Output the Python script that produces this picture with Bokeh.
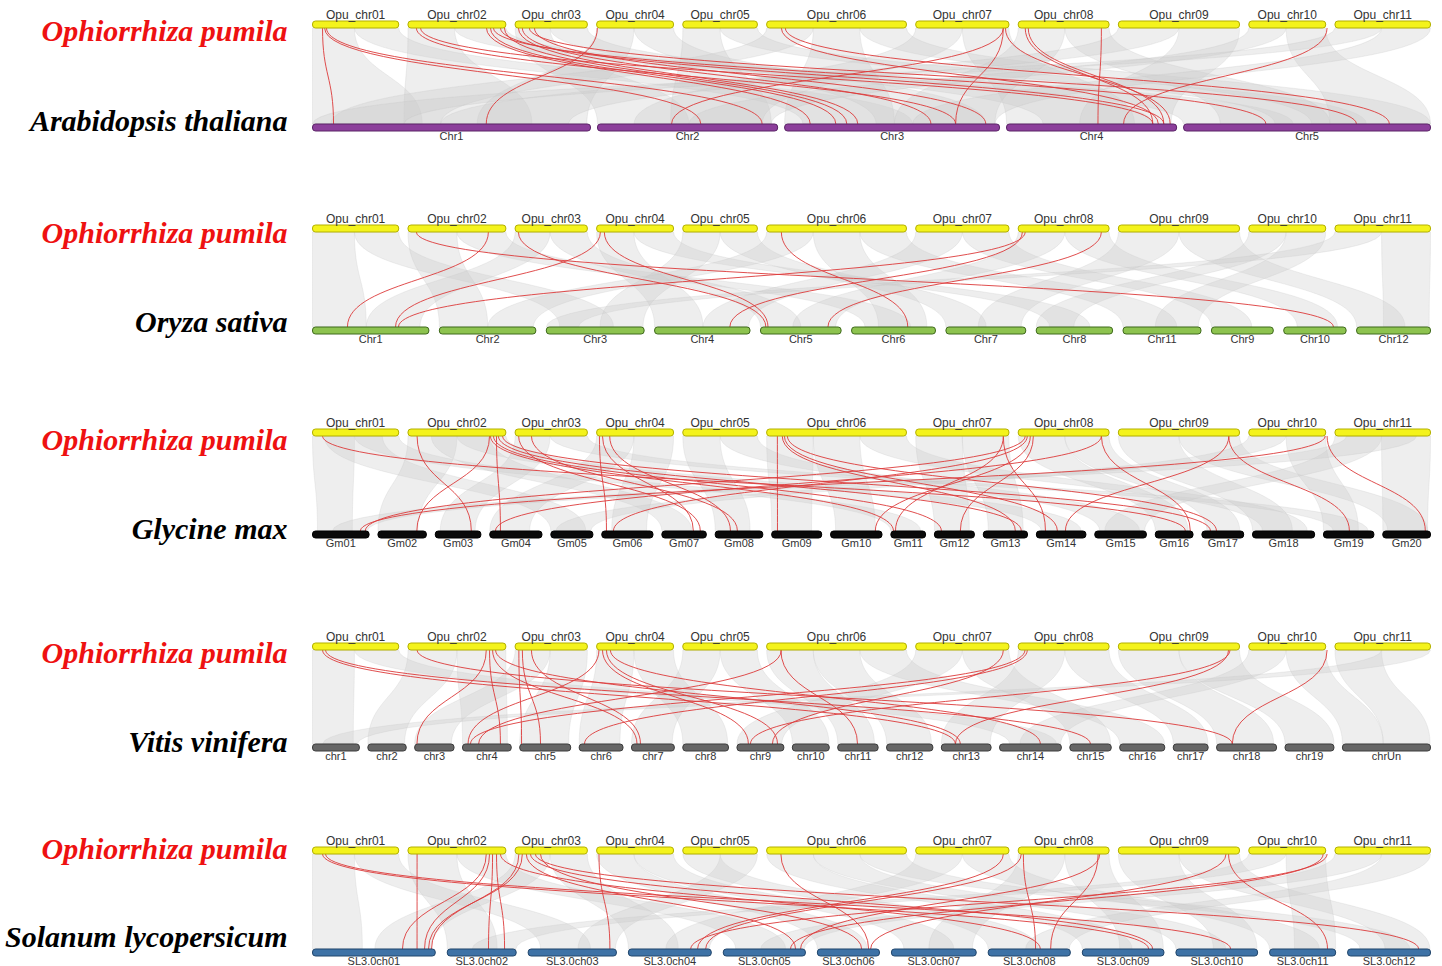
import numpy as np
from bokeh.plotting import figure
from bokeh.models import Range1d
from bokeh.embed import file_html
from bokeh.resources import INLINE
from bokeh.core.properties import value

# ---------------- data ----------------
species_top = "Ophiorrhiza pumila"
species_bottom = ["Arabidopsis thaliana", "Oryza sativa", "Glycine max",
                  "Vitis vinifera", "Solanum lycopersicum"]

opu_names = ["Opu_chr01", "Opu_chr02", "Opu_chr03", "Opu_chr04", "Opu_chr05", "Opu_chr06",
             "Opu_chr07", "Opu_chr08", "Opu_chr09", "Opu_chr10", "Opu_chr11"]
opu_len = [37, 42, 31, 33, 32, 60, 40, 39, 52, 33, 41]

at_names = ["Chr1", "Chr2", "Chr3", "Chr4", "Chr5"]
at_len = [30.4, 19.7, 23.5, 18.6, 27.0]

os_names = ["Chr1", "Chr2", "Chr3", "Chr4", "Chr5", "Chr6", "Chr7", "Chr8", "Chr11", "Chr9", "Chr10", "Chr12"]
os_len = [43.3, 35.9, 36.4, 35.5, 30.0, 31.2, 29.7, 28.4, 29.0, 23.0, 23.2, 27.5]

gm_names = ["Gm01", "Gm02", "Gm03", "Gm04", "Gm05", "Gm06", "Gm07", "Gm08", "Gm09", "Gm10",
            "Gm11", "Gm12", "Gm13", "Gm14", "Gm15", "Gm16", "Gm17", "Gm18", "Gm19", "Gm20"]
gm_len = [56.8, 48.6, 45.8, 52.4, 42.2, 51.4, 44.6, 47.8, 50.2, 51.6,
          34.8, 40.1, 44.4, 49.7, 51.8, 37.9, 41.9, 62.3, 50.6, 47.9]

vv_names = ["chr1", "chr2", "chr3", "chr4", "chr5", "chr6", "chr7", "chr8", "chr9", "chr10",
            "chr11", "chr12", "chr13", "chr14", "chr15", "chr16", "chr17", "chr18", "chr19", "chrUn"]
vv_len = [23.0, 18.8, 19.3, 23.9, 25.0, 21.5, 21.0, 22.4, 23.0, 18.1,
          19.8, 22.7, 24.4, 30.3, 20.3, 22.1, 17.1, 29.4, 24.0, 43.2]

sl_names = ["SL3.0ch01", "SL3.0ch02", "SL3.0ch03", "SL3.0ch04", "SL3.0ch05", "SL3.0ch06",
            "SL3.0ch07", "SL3.0ch08", "SL3.0ch09", "SL3.0ch10", "SL3.0ch11", "SL3.0ch12"]
sl_len = [98.5, 55.3, 70.8, 66.5, 65.9, 49.8, 68.0, 65.9, 65.5, 65.5, 53.0, 66.5]

# highlighted collinear gene pairs: (Opu chr no., Opu Mb, other chr, other Mb)
at_red = [(1, 4.3, "Chr1", 2.3), (1, 5.2, "Chr2", 11.3), (1, 6.0, "Chr2", 18.0),
          (2, 3.6, "Chr3", 18.7), (2, 5.4, "Chr4", 16.0), (2, 33.7, "Chr3", 2.8),
          (2, 35.4, "Chr3", 5.6), (2, 36.7, "Chr5", 9.0), (2, 39.7, "Chr4", 17.2),
          (2, 41.4, "Chr3", 6.8), (3, 1.4, "Chr3", 8.0), (3, 3.1, "Chr3", 16.0),
          (3, 6.1, "Chr5", 18.9), (3, 8.3, "Chr3", 22.0), (4, 0.3, "Chr1", 19.0),
          (6, 6.3, "Chr4", 16.6), (6, 8.0, "Chr5", 22.5), (7, 37.6, "Chr2", 8.1),
          (7, 37.6, "Chr3", 18.7), (7, 38.5, "Chr4", 17.9), (8, 3.0, "Chr4", 16.0),
          (8, 4.3, "Chr4", 17.2), (8, 35.7, "Chr4", 10.0), (10, 33.6, "Chr4", 12.8)]

os_red = [(2, 34.5, "Chr1", 13.0), (2, 3.6, "Chr10", 18.5), (3, 1.4, "Chr5", 2.0),
          (4, 1.6, "Chr1", 30.9), (4, 3.3, "Chr5", 2.8), (6, 6.3, "Chr6", 20.9),
          (8, 3.0, "Chr1", 32.0), (8, 1.8, "Chr4", 28.0), (8, 35.7, "Chr5", 25.1)]

gm_red = [(1, 4.3, "Gm16", 30.2), (2, 3.9, "Gm03", 36.2), (2, 35.0, "Gm02", 39.0),
          (2, 38.0, "Gm04", 10.7), (2, 35.4, "Gm11", 2.6), (2, 36.7, "Gm12", 7.0),
          (2, 38.8, "Gm13", 38.2), (2, 40.6, "Gm17", 8.6), (3, 1.5, "Gm07", 38.6),
          (3, 7.0, "Gm08", 22.3), (4, 1.2, "Gm06", 4.7), (4, 2.5, "Gm07", 31.6),
          (4, 5.6, "Gm08", 15.3), (6, 4.6, "Gm09", 5.8), (6, 6.7, "Gm13", 32.2),
          (6, 7.6, "Gm14", 21.1), (6, 8.9, "Gm17", 14.6), (7, 37.6, "Gm11", 4.6),
          (7, 37.6, "Gm14", 9.1), (8, 3.0, "Gm01", 53.0), (8, 3.9, "Gm06", 11.7),
          (8, 5.2, "Gm10", 44.9), (8, 6.5, "Gm12", 26.0), (8, 35.7, "Gm04", 5.7),
          (8, 35.7, "Gm16", 35.2), (9, 47.4, "Gm19", 26.0), (9, 47.4, "Gm14", 29.1),
          (10, 33.6, "Gm20", 42.7), (10, 32.8, "Gm01", 48.0)]

vv_red = [(1, 4.3, "chr13", 6.9), (1, 5.6, "chr15", 10.1), (2, 3.9, "chr18", 7.7),
          (2, 33.6, "chr3", 1.1), (2, 35.0, "chr4", 18.6), (2, 36.3, "chr7", 2.7),
          (2, 37.6, "chr13", 9.3), (3, 1.6, "chr5", 0.9), (3, 3.1, "chr5", 10.2),
          (3, 7.0, "chr7", 4.4), (4, 1.0, "chr4", 2.7), (4, 2.5, "chr9", 5.6),
          (4, 4.2, "chr9", 19.9), (4, 5.9, "chr14", 20.0), (6, 6.1, "chr11", 9.7),
          (6, 6.3, "chr4", 7.9), (7, 37.6, "chr9", 17.4), (8, 2.9, "chr4", 3.9),
          (8, 3.9, "chr6", 2.6), (9, 47.3, "chr13", 6.9), (9, 47.9, "chr9", 6.6),
          (10, 33.6, "chr18", 7.7)]

sl_red = [(1, 4.3, "SL3.0ch09", 53.2), (1, 5.6, "SL3.0ch10", 43.9), (2, 3.9, "SL3.0ch01", 83.9),
          (2, 33.6, "SL3.0ch01", 72.2), (2, 35.0, "SL3.0ch01", 89.9), (2, 36.3, "SL3.0ch02", 33.1),
          (2, 38.0, "SL3.0ch02", 46.0), (2, 39.7, "SL3.0ch08", 41.8), (3, 1.6, "SL3.0ch01", 95.5),
          (3, 3.1, "SL3.0ch01", 93.1), (3, 4.8, "SL3.0ch05", 58.0), (3, 6.6, "SL3.0ch09", 56.4),
          (3, 8.7, "SL3.0ch12", 57.0), (3, 10.9, "SL3.0ch06", 35.5), (4, 1.0, "SL3.0ch03", 65.6),
          (6, 6.1, "SL3.0ch06", 41.1), (7, 37.6, "SL3.0ch04", 55.5), (8, 1.3, "SL3.0ch04", 62.0),
          (8, 2.2, "SL3.0ch08", 38.0), (8, 34.3, "SL3.0ch08", 50.1), (8, 35.0, "SL3.0ch05", 62.0),
          (9, 47.3, "SL3.0ch11", 46.5), (9, 46.2, "SL3.0ch06", 42.7), (10, 33.6, "SL3.0ch04", 50.0),
          (10, 31.9, "SL3.0ch05", 54.0)]

# background collinear blocks: (Opu chr no., start, end, other chr, start, end) in Mb
at_gray = [(1, 0, 18, "Chr1", 0, 12), (1, 18, 37, "Chr3", 2, 14), (2, 0, 20, "Chr1", 10, 24),
           (2, 20, 42, "Chr5", 0, 12), (3, 0, 15, "Chr2", 0, 10), (3, 15, 31, "Chr4", 4, 16),
           (4, 0, 16, "Chr1", 18, 30), (4, 16, 33, "Chr3", 10, 22), (5, 0, 16, "Chr2", 8, 19),
           (5, 16, 32, "Chr5", 10, 20), (6, 0, 20, "Chr1", 2, 14), (6, 20, 40, "Chr3", 0, 12),
           (6, 40, 60, "Chr5", 14, 27), (7, 0, 20, "Chr2", 4, 18), (7, 20, 40, "Chr4", 0, 14),
           (8, 0, 20, "Chr3", 12, 23), (8, 20, 39, "Chr5", 4, 16), (9, 0, 26, "Chr1", 14, 28),
           (9, 26, 52, "Chr4", 8, 18), (10, 0, 16, "Chr2", 10, 19), (10, 16, 33, "Chr5", 16, 27),
           (11, 0, 20, "Chr1", 0, 10), (11, 20, 41, "Chr3", 14, 23)]

os_gray = [(1, 0, 18, "Chr1", 0, 20), (1, 18, 37, "Chr3", 5, 25), (2, 0, 21, "Chr2", 0, 18),
           (2, 21, 42, "Chr6", 5, 22), (3, 0, 15, "Chr1", 20, 40), (3, 15, 31, "Chr5", 0, 15),
           (4, 0, 16, "Chr4", 0, 18), (4, 16, 33, "Chr8", 5, 20), (5, 0, 16, "Chr3", 20, 36),
           (5, 16, 32, "Chr7", 0, 15), (6, 0, 20, "Chr2", 18, 35), (6, 20, 40, "Chr6", 10, 28),
           (6, 40, 60, "Chr11", 0, 20), (7, 0, 20, "Chr4", 18, 35), (7, 20, 40, "Chr9", 0, 15),
           (8, 0, 20, "Chr5", 12, 28), (8, 20, 39, "Chr10", 5, 20), (9, 0, 26, "Chr7", 12, 28),
           (9, 26, 52, "Chr12", 0, 18), (10, 0, 16, "Chr8", 0, 14), (10, 16, 33, "Chr11", 12, 28),
           (11, 0, 20, "Chr3", 0, 12), (11, 20, 41, "Chr12", 10, 27)]

gm_gray = [(1, 0, 18, "Gm01", 5, 40), (1, 18, 37, "Gm11", 0, 30), (1, 5, 30, "Gm05", 0, 35),
           (2, 0, 21, "Gm02", 0, 40), (2, 21, 42, "Gm14", 5, 45), (2, 10, 35, "Gm07", 0, 30),
           (3, 0, 15, "Gm03", 5, 40), (3, 15, 31, "Gm19", 10, 45), (4, 0, 16, "Gm04", 0, 40),
           (4, 16, 33, "Gm06", 10, 45), (5, 0, 16, "Gm08", 0, 35), (5, 16, 32, "Gm15", 5, 45),
           (6, 0, 20, "Gm09", 0, 40), (6, 20, 40, "Gm10", 5, 45), (6, 40, 60, "Gm18", 10, 55),
           (7, 0, 20, "Gm12", 0, 35), (7, 20, 40, "Gm13", 5, 40), (8, 0, 20, "Gm16", 0, 33),
           (8, 20, 39, "Gm17", 5, 38), (9, 0, 26, "Gm18", 0, 40), (9, 26, 52, "Gm20", 5, 45),
           (10, 0, 16, "Gm05", 5, 40), (10, 16, 33, "Gm19", 0, 35), (11, 0, 20, "Gm15", 10, 50),
           (11, 20, 41, "Gm20", 0, 45), (11, 5, 35, "Gm01", 20, 55)]

vv_gray = [(1, 0, 18, "chr1", 0, 20), (1, 18, 37, "chr14", 5, 28), (2, 0, 21, "chr2", 0, 18),
           (2, 21, 42, "chr4", 0, 22), (3, 0, 15, "chr3", 0, 18), (3, 15, 31, "chr5", 0, 24),
           (4, 0, 16, "chr6", 0, 20), (4, 16, 33, "chr8", 0, 22), (5, 0, 16, "chr7", 0, 20),
           (5, 16, 32, "chr10", 0, 18), (6, 0, 20, "chr11", 0, 18), (6, 20, 40, "chr12", 0, 22),
           (6, 40, 60, "chr16", 0, 22), (7, 0, 20, "chr9", 0, 22), (7, 20, 40, "chr15", 0, 20),
           (8, 0, 20, "chr13", 0, 24), (8, 20, 39, "chr17", 0, 17), (9, 0, 26, "chr18", 0, 28),
           (9, 26, 52, "chr19", 0, 24), (10, 0, 16, "chr14", 10, 30), (10, 16, 33, "chrUn", 0, 20),
           (11, 0, 20, "chrUn", 20, 43), (11, 20, 41, "chr1", 5, 22)]

sl_gray = [(1, 0, 18, "SL3.0ch01", 0, 40), (1, 18, 37, "SL3.0ch03", 10, 50), (2, 0, 21, "SL3.0ch02", 0, 40),
           (2, 21, 42, "SL3.0ch05", 10, 50), (3, 0, 15, "SL3.0ch01", 50, 95), (3, 15, 31, "SL3.0ch04", 0, 40),
           (4, 0, 16, "SL3.0ch06", 0, 40), (4, 16, 33, "SL3.0ch07", 10, 50), (5, 0, 16, "SL3.0ch08", 0, 40),
           (5, 16, 32, "SL3.0ch03", 40, 70), (6, 0, 20, "SL3.0ch09", 0, 40), (6, 20, 40, "SL3.0ch10", 0, 40),
           (6, 40, 60, "SL3.0ch12", 10, 50), (7, 0, 20, "SL3.0ch04", 30, 65), (7, 20, 40, "SL3.0ch11", 0, 40),
           (8, 0, 20, "SL3.0ch07", 30, 65), (8, 20, 39, "SL3.0ch09", 30, 65), (9, 0, 26, "SL3.0ch10", 30, 65),
           (9, 26, 52, "SL3.0ch12", 30, 66), (10, 0, 16, "SL3.0ch02", 20, 55), (10, 16, 33, "SL3.0ch11", 20, 53),
           (11, 0, 20, "SL3.0ch05", 30, 65), (11, 20, 41, "SL3.0ch08", 30, 65)]

# ---------------- layout / styling ----------------
W, H = 1442, 966
X0, X1 = 312, 1430
BAR_H = 7
panel_y = [(24, 127), (228, 330), (432, 534), (646, 747), (850, 952)]
label_y = [(30, 120), (232, 321), (439, 528), (652, 741), (848, 936)]
panels = [
    dict(names=at_names, lens=at_len, gap=7.0, fill="#8c3f9b", line="#5a2466", red=at_red, gray=at_gray),
    dict(names=os_names, lens=os_len, gap=10.5, fill="#8dc34f", line="#3f6a1c", red=os_red, gray=os_gray),
    dict(names=gm_names, lens=gm_len, gap=8.9, fill="#0a0a0a", line="#000000", red=gm_red, gray=gm_gray),
    dict(names=vv_names, lens=vv_len, gap=8.5, fill="#666666", line="#3c3c3c", red=vv_red, gray=vv_gray),
    dict(names=sl_names, lens=sl_len, gap=12.0, fill="#3e72a6", line="#21466c", red=sl_red, gray=sl_gray),
]
TOP_FILL, TOP_LINE = "#f4f31c", "#b3b000"


def layout(lengths, gap):
    n = len(lengths)
    s = (X1 - X0 - gap * (n - 1)) / sum(lengths)
    starts, cur = [], X0
    for L in lengths:
        starts.append(cur)
        cur += L * s + gap
    return starts, s


def bez(xa, ya, xb, yb, n=40):
    t = np.linspace(0, 1, n)
    ym = (ya + yb) / 2
    x = (1 - t) ** 3 * xa + 3 * (1 - t) ** 2 * t * xa + 3 * (1 - t) * t ** 2 * xb + t ** 3 * xb
    y = (1 - t) ** 3 * ya + 3 * (1 - t) ** 2 * t * ym + 3 * (1 - t) * t ** 2 * ym + t ** 3 * yb
    return x, y


p = figure(width=W, height=H, x_range=Range1d(0, W), y_range=Range1d(-H, 0),
           output_backend="svg", toolbar_location=None, min_border=0,
           x_axis_location=None, y_axis_location=None)
p.grid.visible = False
p.outline_line_color = None
p.background_fill_color = "white"

top_starts, top_s = layout(opu_len, 9.3)

for pi, pan in enumerate(panels):
    yt, yb = panel_y[pi]
    bstarts, bs = layout(pan["lens"], pan["gap"])
    bidx = {nm: i for i, nm in enumerate(pan["names"])}
    ya, yz = yt + BAR_H / 2, yb - BAR_H / 2

    def tx(c, mb):
        return top_starts[c - 1] + mb * top_s

    def bx(nm, mb):
        return bstarts[bidx[nm]] + mb * bs

    # gray blocks
    xs, ys = [], []
    for (c, t0, t1, nm, b0, b1) in pan["gray"]:
        lx, ly = bez(tx(c, t0), ya, bx(nm, b0), yz)
        rx, ry = bez(tx(c, t1), ya, bx(nm, b1), yz)
        xs.append(np.concatenate([lx, rx[::-1]]))
        ys.append(-np.concatenate([ly, ry[::-1]]))
    p.patches(xs, ys, fill_color="#cccccc", fill_alpha=0.33, line_color="#c4c4c4",
              line_alpha=0.25, line_width=1)

    # red links
    x0 = [tx(c, m) for (c, m, nm, b) in pan["red"]]
    x1 = [bx(nm, b) for (c, m, nm, b) in pan["red"]]
    ym = (ya + yz) / 2
    n = len(x0)
    p.bezier(x0=x0, y0=[-ya] * n, x1=x1, y1=[-yz] * n, cx0=x0, cy0=[-ym] * n,
             cx1=x1, cy1=[-ym] * n, line_color="#dd3b3b", line_alpha=0.9, line_width=1)

    # top chromosomes
    tl = top_starts
    tr = [top_starts[i] + opu_len[i] * top_s for i in range(len(opu_len))]
    p.quad(left=tl, right=tr, top=[-(yt - BAR_H / 2)] * len(tl), bottom=[-(yt + BAR_H / 2)] * len(tl),
           fill_color=TOP_FILL, line_color=TOP_LINE, line_width=1, border_radius=3)
    p.text(x=[(a + b) / 2 for a, b in zip(tl, tr)], y=[-(yt - 10)] * len(tl), text=opu_names,
           text_font=value("Liberation Sans"), text_font_size=value("12px"), text_color="#333333",
           text_align="center", text_baseline="middle")

    # bottom chromosomes
    bl = bstarts
    br = [bstarts[i] + pan["lens"][i] * bs for i in range(len(bstarts))]
    p.quad(left=bl, right=br, top=[-(yb - BAR_H / 2)] * len(bl), bottom=[-(yb + BAR_H / 2)] * len(bl),
           fill_color=pan["fill"], line_color=pan["line"], line_width=1, border_radius=3)
    p.text(x=[(a + b) / 2 for a, b in zip(bl, br)], y=[-(yb + 8)] * len(bl), text=pan["names"],
           text_font=value("Liberation Sans"), text_font_size=value("11px"), text_color="#333333",
           text_align="center", text_baseline="middle")

    # species names
    ly1, ly2 = label_y[pi]
    p.text(x=[287], y=[-ly1], text=[species_top], text_font=value("Liberation Serif"),
           text_font_size=value("30px"), text_font_style="bold italic", text_color="#ee1111",
           text_align="right", text_baseline="middle")
    p.text(x=[287], y=[-ly2], text=[species_bottom[pi]], text_font=value("Liberation Serif"),
           text_font_size=value("30px"), text_font_style="bold italic", text_color="#000000",
           text_align="right", text_baseline="middle")

open("out.html", "w").write(file_html(p, INLINE))
